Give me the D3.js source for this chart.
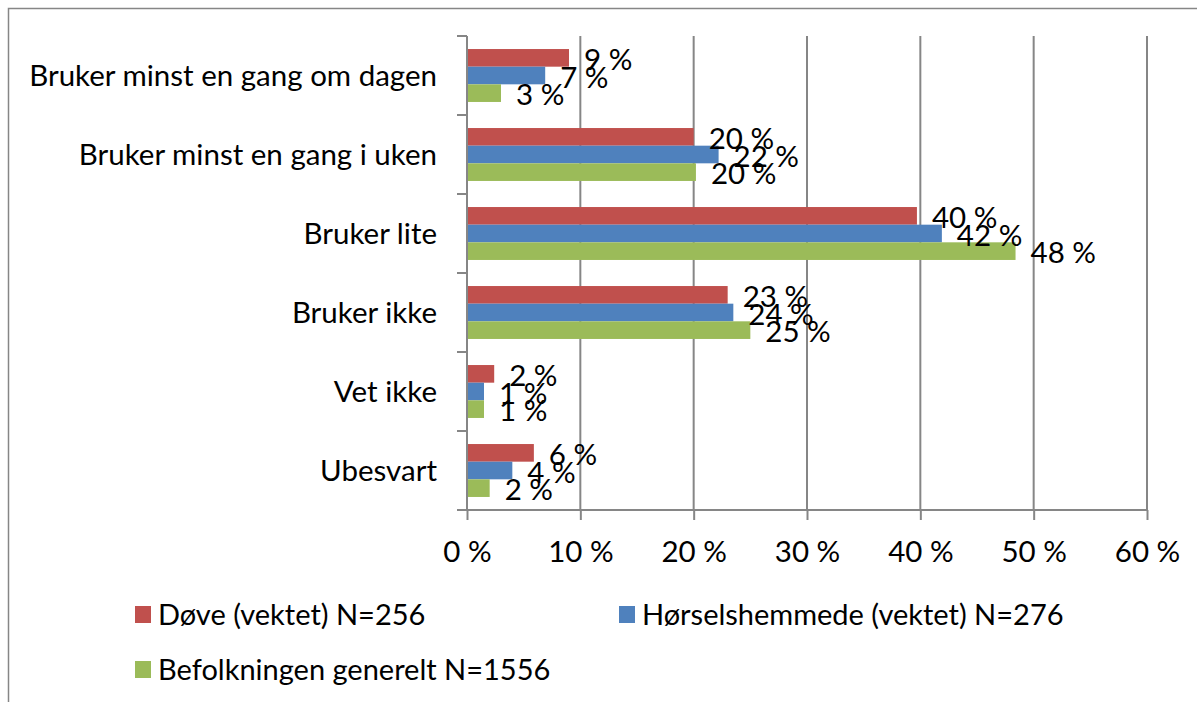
<!DOCTYPE html>
<html><head><meta charset="utf-8">
<script src="https://cdn.jsdelivr.net/npm/d3@7"></script>
<style>body{margin:0;background:#fff}svg{display:block}text{font-family:Lato,"Noto Sans",sans-serif;fill:#000}</style>
</head><body><svg id="c" width="1197" height="702"></svg>
<script>
const categories = ["Bruker minst en gang om dagen","Bruker minst en gang i uken","Bruker lite","Bruker ikke","Vet ikke","Ubesvart"];
const seriesNames = ["Døve (vektet) N=256","Hørselshemmede (vektet) N=276","Befolkningen generelt N=1556"];
const seriesColors = ["#C0504D","#4F81BD","#9BBB59"];
const doeve = [9.0,20.0,39.7,23.0,2.4,5.9];
const horsel = [6.9,22.2,41.9,23.5,1.5,4.0];
const befolk = [3.0,20.2,48.4,25.0,1.5,2.0];
const labelsDoeve = ["9 %","20 %","40 %","23 %","2 %","6 %"];
const labelsHorsel = ["7 %","22 %","42 %","24 %","1 %","4 %"];
const labelsBefolk = ["3 %","20 %","48 %","25 %","1 %","2 %"];
const xTicks = [0,10,20,30,40,50,60];

const values=[doeve,horsel,befolk], labels=[labelsDoeve,labelsHorsel,labelsBefolk];
const svg=d3.select("#c");
const fsCat=29.5, fsNum=29.5, fsLeg=29;
svg.append("path").attr("d","M8.5,702V8.5H1197").attr("fill","none").attr("stroke","#868686").attr("stroke-width",1.5);

const x=d3.scaleLinear().domain([0,60]).range([467,1147]);
const y=d3.scaleBand().domain(categories).range([36,510]).paddingInner(0.33).paddingOuter(0.165);
const ys=d3.scaleBand().domain([0,1,2]).range([0,y.bandwidth()]);

// gridlines
svg.append("g").selectAll("line").data(xTicks.slice(1)).join("line")
 .attr("x1",d=>x(d)).attr("x2",d=>x(d)).attr("y1",36).attr("y2",510)
 .attr("stroke","#868686").attr("stroke-width",2);

// bars
values.forEach((vals,si)=>{
  svg.append("g").selectAll("rect").data(categories).join("rect")
   .attr("x",x(0)).attr("y",(c)=>y(c)+ys(si)).attr("height",ys.bandwidth())
   .attr("width",(c,i)=>x(vals[i])-x(0)).attr("fill",seriesColors[si]);
});

// axes
const xAxis=svg.append("g").attr("transform","translate(0,510)")
 .call(d3.axisBottom(x).tickValues(xTicks).tickFormat(d=>d+" %").tickSize(10));
xAxis.select(".domain").attr("stroke","#868686").attr("stroke-width",2).attr("d","M467,0H1147");
xAxis.selectAll(".tick line").attr("stroke","#868686").attr("stroke-width",2);
xAxis.selectAll("text").attr("font-size",fsNum).attr("font-family","Lato").attr("dy",null).attr("y",52).style("fill","#000");

const yAxis=svg.append("g").attr("transform","translate(467,0)")
 .call(d3.axisLeft(y).tickSize(0).tickPadding(30));
yAxis.select(".domain").attr("stroke","#868686").attr("stroke-width",2).attr("d","M0,36V510");
yAxis.selectAll("text").attr("font-size",fsCat).attr("font-family","Lato").attr("dy","0.36em").style("fill","#000");
// category boundary ticks
const bounds=d3.range(categories.length+1).map(i=>36+i*y.step());
svg.append("g").selectAll("line").data(bounds).join("line")
 .attr("x1",457).attr("x2",467).attr("y1",d=>d).attr("y2",d=>d)
 .attr("stroke","#868686").attr("stroke-width",2);

// data labels
values.forEach((vals,si)=>{
  svg.append("g").selectAll("text").data(categories).join("text")
   .attr("x",(c,i)=>x(vals[i])+15).attr("y",c=>y(c)+ys(si)+ys.bandwidth()/2+1.5)
   .attr("dy","0.36em").attr("font-size",fsNum).text((c,i)=>labels[si][i]);
});

// legend
const legPos=[[135,606],[619,606],[135,661]];
seriesNames.forEach((n,i)=>{
  const g=svg.append("g").attr("transform",`translate(${legPos[i][0]},${legPos[i][1]})`);
  g.append("rect").attr("width",16).attr("height",17).attr("fill",seriesColors[i]);
  g.append("text").attr("x",23).attr("y",8.5).attr("dy","0.36em").attr("font-size",fsLeg).text(n);
});
</script></body></html>
